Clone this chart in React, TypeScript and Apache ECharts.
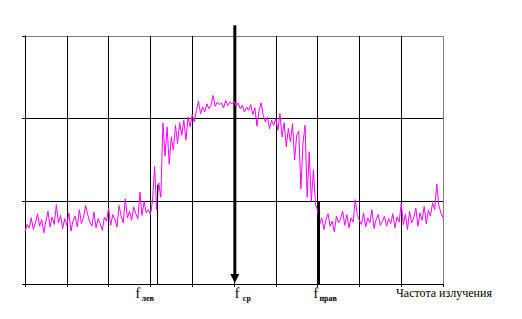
import React, { useEffect, useRef } from "react";
import * as echarts from "echarts";

// Frequency axis (arbitrary units) and power axis
const X_MIN = 0;
const X_MAX = 10;
const Y_MIN = 0;
const Y_MAX = 3;

// Spectrum samples (evenly spaced across the frequency axis)
const leftBand = [
  0.63, 0.72, 0.68, 0.8, 0.66, 0.74, 0.85, 0.7, 0.78, 0.62,
  0.76, 0.88, 0.69, 0.81, 0.72, 0.96, 0.74, 0.83, 0.67, 0.79,
  0.71, 0.86, 0.64, 0.77, 0.82, 0.69, 0.9, 0.73, 0.8, 0.95,
  0.84, 0.75, 0.7, 0.87, 0.68, 0.79, 0.73, 0.65, 0.81, 0.76,
  0.92, 0.71, 0.84, 0.78, 0.69, 0.95, 0.82, 0.74, 1.03, 0.8,
  0.88, 0.77, 0.93, 0.85, 0.79, 1.11, 0.83, 1.0, 0.86, 0.9,
  0.84,
];
const passBand = [
  1.0, 1.42, 0.9, 1.22, 1.05, 1.95, 1.55, 1.9, 1.45, 1.78,
  1.62, 1.92, 1.7, 1.95, 1.8, 1.98, 1.74, 2.02, 1.9, 2.05,
  1.96, 2.1, 2.21, 2.06, 2.14, 2.08, 2.18, 2.12, 2.16, 2.28,
  2.15, 2.2, 2.17, 2.19, 2.13, 2.22, 2.16, 2.2, 2.18, 2.21,
  2.15, 2.19, 2.12, 2.16, 2.08, 2.14, 2.1, 2.17, 2.05, 2.13,
  1.91, 2.1, 2.19, 2.04, 1.96, 2.02, 1.88, 1.98, 1.92, 2.0,
  1.86, 2.06, 1.78, 1.95, 1.66, 1.88, 1.72, 1.94, 1.5, 1.8,
  1.85, 1.15, 1.7, 1.92, 1.05, 1.6, 1.0, 1.38, 0.96, 0.89,
];
const rightBand = [
  0.72, 0.8, 0.66, 0.78, 0.85, 0.7, 0.76, 0.63, 0.82, 0.74,
  0.79, 0.88, 0.71, 0.84, 0.68, 0.8, 0.75, 1.02, 0.83, 0.77,
  0.72, 0.86, 0.69, 0.8, 0.74, 0.9, 0.67, 0.78, 0.84, 0.71,
  0.76, 0.82, 0.7, 0.79, 0.73, 0.85, 0.68, 0.81, 0.75, 0.97,
  0.72, 0.84, 0.66, 0.88, 0.74, 0.8, 0.92, 0.7, 0.86, 0.77,
  0.94, 0.73, 0.89, 0.82, 0.98, 0.9, 1.21, 0.95, 0.86, 0.8,
];
const spectrum = [...leftBand, ...passBand, ...rightBand];

// Marker frequencies and heights
const F_LEFT = 3.17;
const F_LEFT_TOP = 1.2;
const F_CENTER = 5.02;
const F_CENTER_TOP = 3.13;
const F_RIGHT = 7.02;
const F_RIGHT_TOP = 1.0;

const SUB_LEFT = "лев";
const SUB_CENTER = "ср";
const SUB_RIGHT = "прав";
const AXIS_TITLE = "Частота излучения";

const FONT = "'Liberation Serif', 'Times New Roman', serif";

export default function App() {
  const ref = useRef<HTMLDivElement>(null);

  useEffect(() => {
    if (!ref.current) return;
    const chart = echarts.init(ref.current, undefined, { renderer: "svg" });
    const n = spectrum.length;
    const data = spectrum.map((v, i) => [X_MIN + ((X_MAX - X_MIN) * i) / (n - 1), v]);

    const xColors = Array.from({ length: 11 }, (_, i) => (i === 10 ? "#808080" : "#000"));
    const yColors = Array.from({ length: 4 }, (_, i) => (i === 3 ? "#808080" : "#000"));

    chart.setOption({
      animation: false,
      backgroundColor: "#fff",
      grid: { left: 25, top: 36, width: 418, height: 248 },
      xAxis: {
        type: "value",
        min: X_MIN,
        max: X_MAX,
        interval: 1,
        axisLine: { show: true, lineStyle: { color: "#000", width: 1 } },
        axisTick: { show: true, length: 3, lineStyle: { color: "#000" } },
        axisLabel: { show: false },
        splitLine: { show: true, lineStyle: { color: xColors, width: 1 } },
      },
      yAxis: {
        type: "value",
        min: Y_MIN,
        max: Y_MAX,
        interval: 1,
        axisLine: { show: true, lineStyle: { color: "#000", width: 1 } },
        axisTick: { show: true, length: 3, lineStyle: { color: "#000" } },
        axisLabel: { show: false },
        splitLine: { show: true, lineStyle: { color: yColors, width: 1 } },
      },
      series: [
        {
          type: "line",
          data,
          showSymbol: false,
          symbol: "none",
          lineStyle: { color: "#ff00ff", width: 1 },
          markLine: {
            silent: true,
            symbol: "none",
            label: { show: false },
            data: [
              [
                { coord: [F_LEFT, 0], lineStyle: { color: "#000", width: 1, type: "solid" } },
                { coord: [F_LEFT, F_LEFT_TOP] },
              ],
              [
                { coord: [F_RIGHT, 0], lineStyle: { color: "#000", width: 2, type: "solid" } },
                { coord: [F_RIGHT, F_RIGHT_TOP] },
              ],
            ],
          },
        },
      ],
    });

    const px = (x: number, y: number) => chart.convertToPixel({ gridIndex: 0 }, [x, y]) as number[];
    const top = px(F_CENTER, F_CENTER_TOP);
    const bottom = px(F_CENTER, 0);
    const cx = top[0];
    const tipY = bottom[1] - 1;
    const fl = px(F_LEFT, 0)[0];
    const fr = px(F_RIGHT, 0)[0];
    const labelY = bottom[1] + 9;
    const subY = bottom[1] + 14;

    const fText = (x: number) => ({
      type: "text",
      x,
      y: labelY,
      style: { text: "f", font: `14px ${FONT}`, fill: "#000", textVerticalAlign: "middle", textAlign: "left" },
    });
    const subText = (x: number, t: string) => ({
      type: "text",
      x,
      y: subY,
      style: { text: t, font: `bold 8px ${FONT}`, fill: "#000", textVerticalAlign: "middle", textAlign: "left" },
    });

    chart.setOption({
      graphic: [
        {
          type: "line",
          shape: { x1: cx, y1: top[1], x2: cx, y2: tipY - 8 },
          style: { stroke: "#000", lineWidth: 3 },
        },
        {
          type: "polygon",
          shape: { points: [[cx - 4.5, tipY - 9], [cx + 4.5, tipY - 9], [cx, tipY]] },
          style: { fill: "#000" },
        },
        fText(fl - 22),
        subText(fl - 16, SUB_LEFT),
        fText(cx),
        subText(cx + 8, SUB_CENTER),
        fText(fr - 5),
        subText(fr + 1, SUB_RIGHT),
        {
          type: "text",
          x: 396,
          y: labelY,
          style: { text: AXIS_TITLE, font: `12px ${FONT}`, fill: "#000", textVerticalAlign: "middle", textAlign: "left" },
        },
      ],
    });

    return () => chart.dispose();
  }, []);

  return <div ref={ref} style={{ position: "absolute", left: 0, top: 0, width: 522, height: 319 }} />;
}
